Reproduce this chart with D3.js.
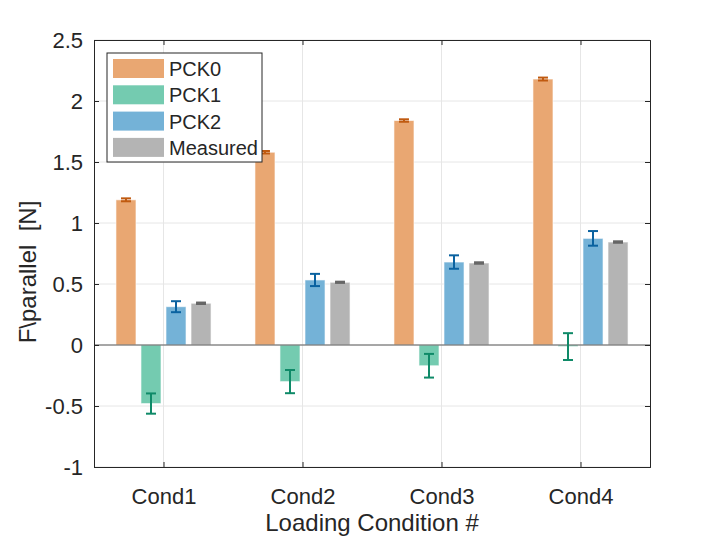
<!DOCTYPE html>
<html>
<head>
<meta charset="utf-8">
<script src="https://cdn.jsdelivr.net/npm/d3@7"></script>
<style>
  body { margin: 0; background: #fff; }
  text { font-family: "Liberation Sans", Arial, sans-serif; fill: #262626; }
</style>
</head>
<body>
<div id="chart"></div>
<script>
// data
var conditions = ["Cond1", "Cond2", "Cond3", "Cond4"];
var seriesNames = ["PCK0", "PCK1", "PCK2", "Measured"];
var pck0 = [1.19, 1.58, 1.84, 2.18];
var pck1 = [-0.48, -0.30, -0.17, -0.013];
var pck2 = [0.314, 0.533, 0.68, 0.874];
var measured = [0.342, 0.514, 0.672, 0.844];
var pck0Err = [0.012, 0.01, 0.01, 0.012];
var pck1Err = [0.083, 0.095, 0.097, 0.11];
var pck2Err = [0.045, 0.05, 0.055, 0.06];
var measuredErr = [0.006, 0.005, 0.006, 0.006];
var yTicks = [-1, -0.5, 0, 0.5, 1, 1.5, 2, 2.5];

var fills = ["#e9a772", "#74cbb0", "#74b2d7", "#b4b4b4"];
var errColors = ["#c05a10", "#0f8a68", "#0a62a0", "#666666"];

var width = 718,
  height = 538;
var margin = { left: 94, right: 68, top: 40, bottom: 71 };

var svg = d3
  .select("#chart")
  .append("svg")
  .attr("width", width)
  .attr("height", height);

var x = d3
  .scaleLinear()
  .domain([0.5, 4.5])
  .range([margin.left, width - margin.right]);

var y = d3
  .scaleLinear()
  .domain([-1, 2.5])
  .range([height - margin.bottom, margin.top]);

var values = [pck0, pck1, pck2, measured];
var errs = [pck0Err, pck1Err, pck2Err, measuredErr];
var offset = 0.18,
  barW = 0.144;

// grid
var g = svg.append("g");
g.selectAll(".hgrid")
  .data(yTicks)
  .join("line")
  .attr("x1", x(0.5))
  .attr("x2", x(4.5))
  .attr("y1", (d) => y(d))
  .attr("y2", (d) => y(d))
  .attr("stroke", "#e6e6e6")
  .attr("stroke-width", 1);
g.selectAll(".vgrid")
  .data(conditions)
  .join("line")
  .attr("x1", (d, i) => x(i + 1))
  .attr("x2", (d, i) => x(i + 1))
  .attr("y1", y(-1))
  .attr("y2", y(2.5))
  .attr("stroke", "#e6e6e6")
  .attr("stroke-width", 1);

// bars
var rows = [];
for (var s = 0; s < values.length; s++) {
  for (var i = 0; i < conditions.length; i++) {
    rows.push({ s: s, i: i, v: values[s][i], e: errs[s][i] });
  }
}
function cx(d) {
  return x(d.i + 1 + (d.s - 1.5) * offset);
}
var bw = x(1 + barW) - x(1);

svg.selectAll(".bar")
  .data(rows)
  .join("rect")
  .attr("x", (d) => cx(d) - bw / 2)
  .attr("width", bw)
  .attr("y", (d) => y(Math.max(0, d.v)))
  .attr("height", (d) => Math.max(1, Math.abs(y(d.v) - y(0))))
  .attr("fill", (d) => fills[d.s])
  .attr("stroke", "#ffffff")
  .attr("stroke-opacity", 0.6)
  .attr("stroke-width", 1);

// baseline
svg.append("line")
  .attr("x1", x(0.5))
  .attr("x2", x(4.5))
  .attr("y1", y(0))
  .attr("y2", y(0))
  .attr("stroke", "#5a5a5a")
  .attr("stroke-width", 1);

// error bars
var cap = 5;
var eb = svg.selectAll(".err").data(rows).join("g");
eb.append("line")
  .attr("x1", cx)
  .attr("x2", cx)
  .attr("y1", (d) => y(d.v - d.e))
  .attr("y2", (d) => y(d.v + d.e))
  .attr("stroke", (d) => errColors[d.s])
  .attr("stroke-width", 2);
eb.append("line")
  .attr("x1", (d) => cx(d) - cap)
  .attr("x2", (d) => cx(d) + cap)
  .attr("y1", (d) => y(d.v - d.e))
  .attr("y2", (d) => y(d.v - d.e))
  .attr("stroke", (d) => errColors[d.s])
  .attr("stroke-width", 2);
eb.append("line")
  .attr("x1", (d) => cx(d) - cap)
  .attr("x2", (d) => cx(d) + cap)
  .attr("y1", (d) => y(d.v + d.e))
  .attr("y2", (d) => y(d.v + d.e))
  .attr("stroke", (d) => errColors[d.s])
  .attr("stroke-width", 2);

// axes
var yAxis = svg
  .append("g")
  .attr("transform", "translate(" + x(0.5) + ",0)")
  .call(d3.axisLeft(y).tickValues(yTicks).tickSize(-5).tickPadding(11).tickFormat((d) => String(d)));
var yAxisR = svg
  .append("g")
  .attr("transform", "translate(" + x(4.5) + ",0)")
  .call(d3.axisRight(y).tickValues(yTicks).tickSize(-5).tickFormat(""));
var xAxis = svg
  .append("g")
  .attr("transform", "translate(0," + y(-1) + ")")
  .call(
    d3.axisBottom(x)
      .tickValues([1, 2, 3, 4])
      .tickSize(-5)
      .tickPadding(21)
      .tickFormat((d) => conditions[d - 1])
  );
var xAxisT = svg
  .append("g")
  .attr("transform", "translate(0," + y(2.5) + ")")
  .call(d3.axisTop(x).tickValues([1, 2, 3, 4]).tickSize(-5).tickFormat(""));

[yAxis, yAxisR, xAxis, xAxisT].forEach(function (a) {
  a.select(".domain").attr("stroke", "#262626");
  a.selectAll(".tick line").attr("stroke", "#262626");
  a.selectAll(".tick text")
    .style("font-size", "22px")
    .style("font-family", '"Liberation Sans", Arial, sans-serif')
    .attr("fill", "#262626");
});

// axis labels
svg.append("text")
  .attr("x", (x(0.5) + x(4.5)) / 2)
  .attr("y", 531)
  .attr("text-anchor", "middle")
  .style("font-size", "24px")
  .text("Loading Condition #");
svg.append("text")
  .attr("transform", "translate(36,272) rotate(-90)")
  .attr("text-anchor", "middle")
  .attr("xml:space", "preserve")
  .style("white-space", "pre")
  .style("font-size", "24px")
  .text("F\\parallel  [N]");

// legend
var leg = svg.append("g").attr("transform", "translate(107,53)");
leg.append("rect")
  .attr("width", 155)
  .attr("height", 109)
  .attr("fill", "#ffffff")
  .attr("stroke", "#262626")
  .attr("stroke-width", 1);
var items = leg
  .selectAll(".item")
  .data(seriesNames)
  .join("g")
  .attr("transform", (d, i) => "translate(6," + (6 + i * 26.3) + ")");
items.append("rect")
  .attr("width", 51)
  .attr("height", 19)
  .attr("fill", (d, i) => fills[i]);
items.append("text")
  .attr("x", 56)
  .attr("y", 17)
  .style("font-size", "20px")
  .attr("fill", "#000")
  .text((d) => d);
</script>
</body>
</html>
